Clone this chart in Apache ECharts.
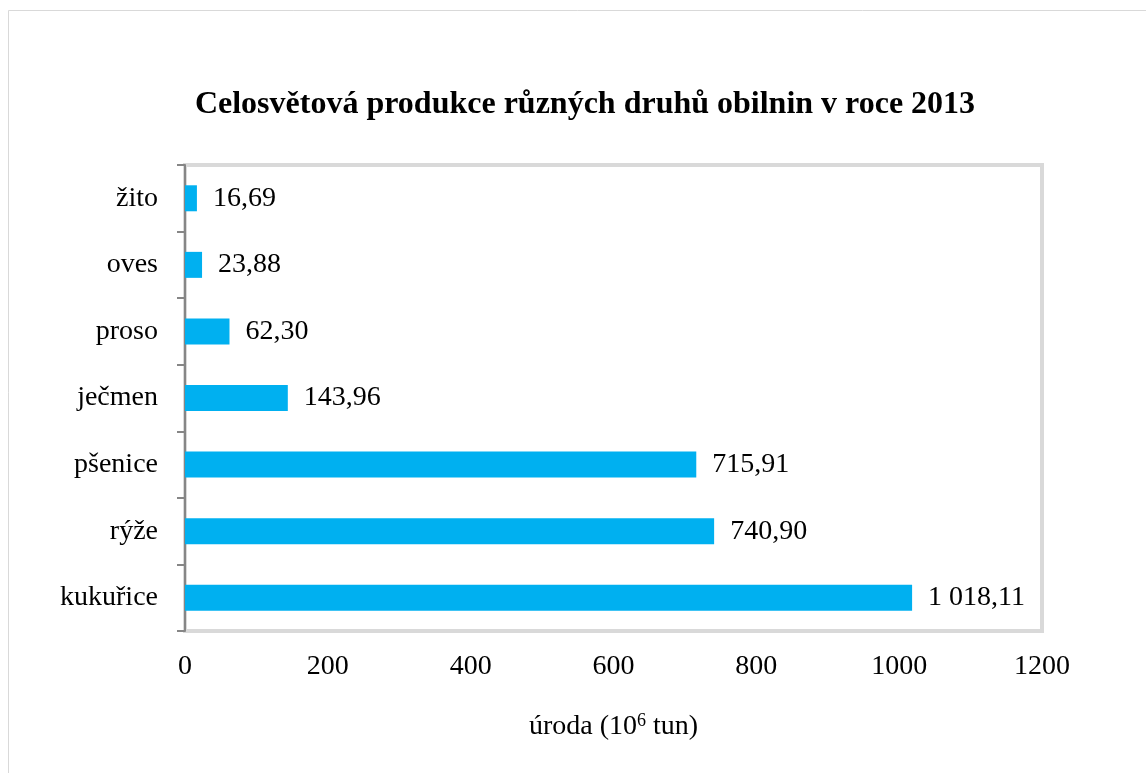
<!DOCTYPE html>
<html><head><meta charset="utf-8">
<script src="https://cdn.jsdelivr.net/npm/echarts@6/dist/echarts.min.js"></script>
<style>html,body{margin:0;padding:0;background:#fff}#c{width:1146px;height:773px}</style>
</head><body><div id="c"></div>
<script>
const categories = ['kukuřice','rýže','pšenice','ječmen','proso','oves','žito'];
const values = [1018.11, 740.90, 715.91, 143.96, 62.30, 23.88, 16.69];
const xTicks = [0, 200, 400, 600, 800, 1000, 1200];
const titleText = 'Celosvětová produkce různých druhů obilnin v roce 2013';

function fmt(v){
  const parts = v.toFixed(2).split('.');
  const intPart = parts[0].replace(/\B(?=(\d{3})+(?!\d))/g, ' ');
  return intPart + ',' + parts[1];
}
const serif = '"Liberation Serif", "DejaVu Serif", serif';
const chart = echarts.init(document.getElementById('c'), null, {renderer:'canvas'});
chart.setOption({
  animation:false,
  backgroundColor:'#fff',
  graphic:[{type:'rect', shape:{x:8.5,y:10.5,width:1160,height:800}, style:{fill:'none', stroke:'#d9d9d9', lineWidth:1}, z:-10}],
  title:{text:titleText, left:580, textAlign:'center', top:84, textStyle:{fontFamily:serif, fontWeight:'bold', fontSize:32, color:'#000'}},
  grid:{left:185, right:104, top:165, bottom:142, show:true, borderColor:'#d9d9d9', borderWidth:4, backgroundColor:'transparent'},
  xAxis:{type:'value', min:xTicks[0], max:xTicks[xTicks.length-1], interval:200,
    axisLine:{show:false}, axisTick:{show:false}, splitLine:{show:false},
    axisLabel:{fontFamily:serif, fontSize:28, color:'#000', margin:22, formatter:v=>String(v)},
    name:'úroda (10{sup|6} tun)', nameLocation:'middle', nameGap:81,
    nameTextStyle:{fontFamily:serif, fontSize:28, color:'#000',
      rich:{sup:{fontFamily:serif, fontSize:18, color:'#000', verticalAlign:'top', padding:[0,0,12,0]}}}
  },
  yAxis:{type:'category', data:categories,
    axisLine:{show:true, lineStyle:{color:'#868686', width:2}},
    axisTick:{show:true, length:8, lineStyle:{color:'#868686', width:2}},
    axisLabel:{fontFamily:serif, fontSize:28, color:'#000', margin:27},
    splitLine:{show:false}
  },
  series:[{type:'bar', data:values, barWidth:26, itemStyle:{color:'#00B0F0'},
    label:{show:true, position:'right', distance:16, fontFamily:serif, fontSize:28, color:'#000',
      formatter:p=>fmt(p.value)}}]
});
</script></body></html>
